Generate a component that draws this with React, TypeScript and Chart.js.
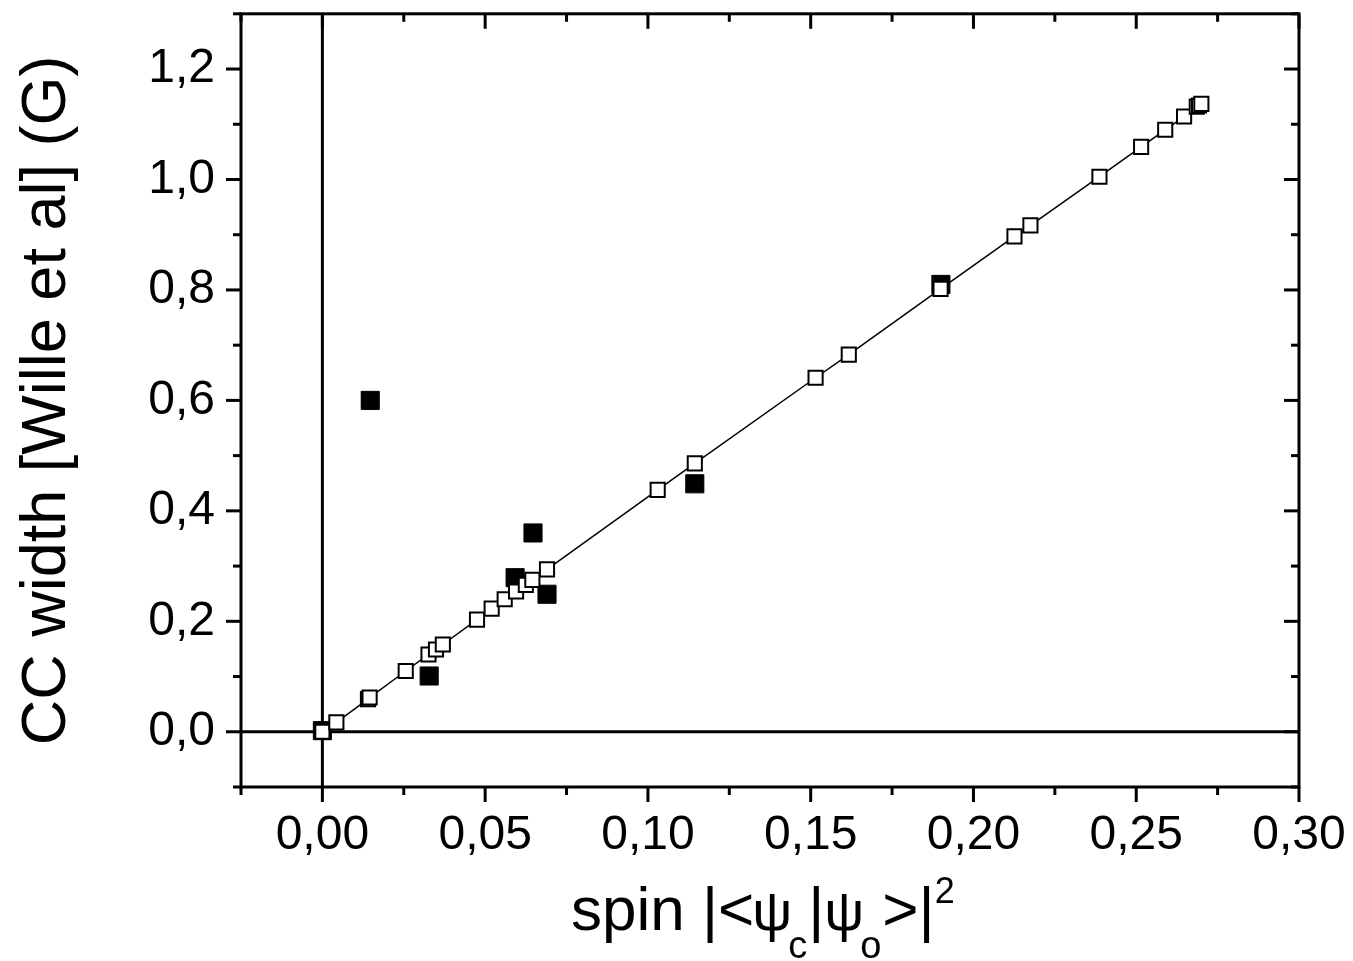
import React, { useEffect, useRef } from 'react';
import { Chart, registerables } from 'chart.js';

Chart.register(...registerables);

// ---- data ----
const openX = [0, 0.0043, 0.014, 0.0145, 0.0256, 0.0326, 0.0349, 0.037, 0.0475, 0.052, 0.056, 0.0595, 0.0625, 0.0645, 0.069, 0.103, 0.1144, 0.1515, 0.1617, 0.1899, 0.2126, 0.2175, 0.2387, 0.2515, 0.2589, 0.2647, 0.2686, 0.2693, 0.27];
const openY = [0, 0.017, 0.059, 0.062, 0.11, 0.14, 0.149, 0.158, 0.203, 0.223, 0.24, 0.254, 0.266, 0.275, 0.294, 0.438, 0.486, 0.641, 0.683, 0.802, 0.897, 0.917, 1.005, 1.059, 1.09, 1.114, 1.132, 1.134, 1.137];

const filledX = [0, 0.0147, 0.0328, 0.0592, 0.0647, 0.069, 0.1144, 0.19];
const filledY = [0.002, 0.6, 0.101, 0.279, 0.36, 0.249, 0.449, 0.81];

const xTickValues = [0, 0.05, 0.1, 0.15, 0.2, 0.25, 0.3];
const yTickValues = [0, 0.2, 0.4, 0.6, 0.8, 1.0, 1.2];
const xMinorTicks = [-0.025, 0.025, 0.075, 0.125, 0.175, 0.225, 0.275];
const yMinorTicks = [-0.1, 0.1, 0.3, 0.5, 0.7, 0.9, 1.1, 1.3];

const X_MIN = -0.025;
const X_MAX = 0.3;
const Y_MIN = -0.1;
const Y_MAX = 1.3;

const yTitle = 'CC width [Wille et al] (G)';
const xTitleParts = [
  { t: 'spin |', s: 'n' },
  { t: '<', s: 'n' },
  { t: 'ψ', s: 'g' },
  { t: 'c', s: 'sub' },
  { t: '|', s: 'n' },
  { t: 'ψ', s: 'g' },
  { t: 'o', s: 'sub' },
  { t: '>|', s: 'n' },
  { t: '2', s: 'sup' },
];

const FONT = "'Liberation Sans', Arial, sans-serif";

const fmtX = (v: number) => v.toFixed(2).replace('.', ',');
const fmtY = (v: number) => v.toFixed(1).replace('.', ',');

const framePlugin = {
  id: 'originFrame',
  beforeDatasetsDraw(chart: any) {
    const { ctx, chartArea: a, scales } = chart;
    const x = scales.x;
    const y = scales.y;
    ctx.save();
    ctx.strokeStyle = '#000';
    ctx.lineWidth = 3;
    ctx.lineCap = 'butt';
    const line = (x1: number, y1: number, x2: number, y2: number) => {
      ctx.beginPath();
      ctx.moveTo(x1, y1);
      ctx.lineTo(x2, y2);
      ctx.stroke();
    };
    // zero lines
    const x0 = x.getPixelForValue(0);
    const y0 = y.getPixelForValue(0);
    line(x0, a.top, x0, a.bottom);
    line(a.left, y0, a.right, y0);
    // frame
    ctx.strokeRect(a.left, a.top, a.right - a.left, a.bottom - a.top);
    // ticks: outward on left/bottom, inward on top/right
    const MAJ = 15;
    const MIN = 8;
    const xt = [...xTickValues.map((v) => [v, MAJ]), ...xMinorTicks.map((v) => [v, MIN])];
    xt.forEach(([v, len]) => {
      const px = x.getPixelForValue(v);
      line(px, a.bottom, px, a.bottom + len);
      line(px, a.top, px, a.top + len);
    });
    const yt = [...yTickValues.map((v) => [v, MAJ]), ...yMinorTicks.map((v) => [v, MIN])];
    yt.forEach(([v, len]) => {
      const py = y.getPixelForValue(v);
      line(a.left - len, py, a.left, py);
      line(a.right - len, py, a.right, py);
    });
    ctx.restore();
  },
  afterDraw(chart: any) {
    const { ctx } = chart;
    ctx.save();
    ctx.fillStyle = '#000';
    ctx.textBaseline = 'alphabetic';
    ctx.textAlign = 'left';
    let cx = 571;
    const base = 930;
    xTitleParts.forEach((p) => {
      let size = 62;
      let by = base;
      let after = 0;
      if (p.s === 'sub') {
        size = 38;
        by = base + 28;
        after = 1;
      } else if (p.s === 'sup') {
        size = 36;
        by = base - 27;
      } else if (p.s === 'g') {
        size = 56;
        after = -4;
      } else if (p.t === '<') {
        after = -2;
      }
      ctx.font = `${size}px ${FONT}`;
      ctx.fillText(p.t, cx, by);
      cx += ctx.measureText(p.t).width + after;
    });
    ctx.restore();
  },
};

const zeroPadding = (scale: any) => {
  scale.paddingTop = 0;
  scale.paddingBottom = 0;
  scale.paddingLeft = 0;
  scale.paddingRight = 0;
};

export default function App() {
  const ref = useRef<HTMLCanvasElement | null>(null);

  useEffect(() => {
    if (!ref.current) return;
    const chart = new Chart(ref.current, {
      type: 'scatter',
      data: {
        datasets: [
          {
            label: 'calc',
            data: openX.map((v, i) => ({ x: v, y: openY[i] })),
            showLine: true,
            borderColor: '#000',
            borderWidth: 1.5,
            pointStyle: 'rect',
            pointRadius: 10,
            pointBackgroundColor: '#fff',
            pointBorderColor: '#000',
            pointBorderWidth: 2,
            tension: 0,
          },
          {
            label: 'exp',
            data: filledX.map((v, i) => ({ x: v, y: filledY[i] })),
            showLine: false,
            pointStyle: 'rect',
            pointRadius: 12.8,
            pointBackgroundColor: '#000',
            pointBorderColor: '#000',
            pointBorderWidth: 1,
          },
        ],
      },
      options: {
        responsive: false,
        animation: false,
        layout: { padding: { left: 0, top: 10, right: 54, bottom: 0 } },
        plugins: {
          legend: { display: false },
          tooltip: { enabled: false },
        },
        scales: {
          x: {
            type: 'linear',
            min: X_MIN,
            max: X_MAX,
            grid: { display: false, drawTicks: false },
            border: { display: false },
            afterBuildTicks: (scale: any) => {
              scale.ticks = xTickValues.map((v) => ({ value: v }));
            },
            afterFit: (scale: any) => {
              scale.height = 174;
              zeroPadding(scale);
            },
            ticks: {
              autoSkip: false,
              maxRotation: 0,
              padding: 20,
              color: '#000',
              font: { family: FONT, size: 48 },
              callback: (v: any) => fmtX(Number(v)),
            },
          },
          y: {
            type: 'linear',
            min: Y_MIN,
            max: Y_MAX,
            grid: { display: false, drawTicks: false },
            border: { display: false },
            afterBuildTicks: (scale: any) => {
              scale.ticks = yTickValues.map((v) => ({ value: v }));
            },
            afterFit: (scale: any) => {
              scale.width = 241;
              zeroPadding(scale);
            },
            title: {
              display: true,
              text: yTitle,
              color: '#000',
              font: { family: FONT, size: 63 },
              padding: { top: 10, bottom: 0 },
            },
            ticks: {
              autoSkip: false,
              padding: 26,
              color: '#000',
              font: { family: FONT, size: 48 },
              callback: (v: any) => fmtY(Number(v)),
            },
          },
        },
      },
      plugins: [framePlugin],
    });
    return () => chart.destroy();
  }, []);

  return (
    <div style={{ position: 'absolute', left: 0, top: 0, width: 1353, height: 961, background: '#fff' }}>
      <canvas ref={ref} width={1353} height={961} style={{ display: 'block' }} />
    </div>
  );
}
